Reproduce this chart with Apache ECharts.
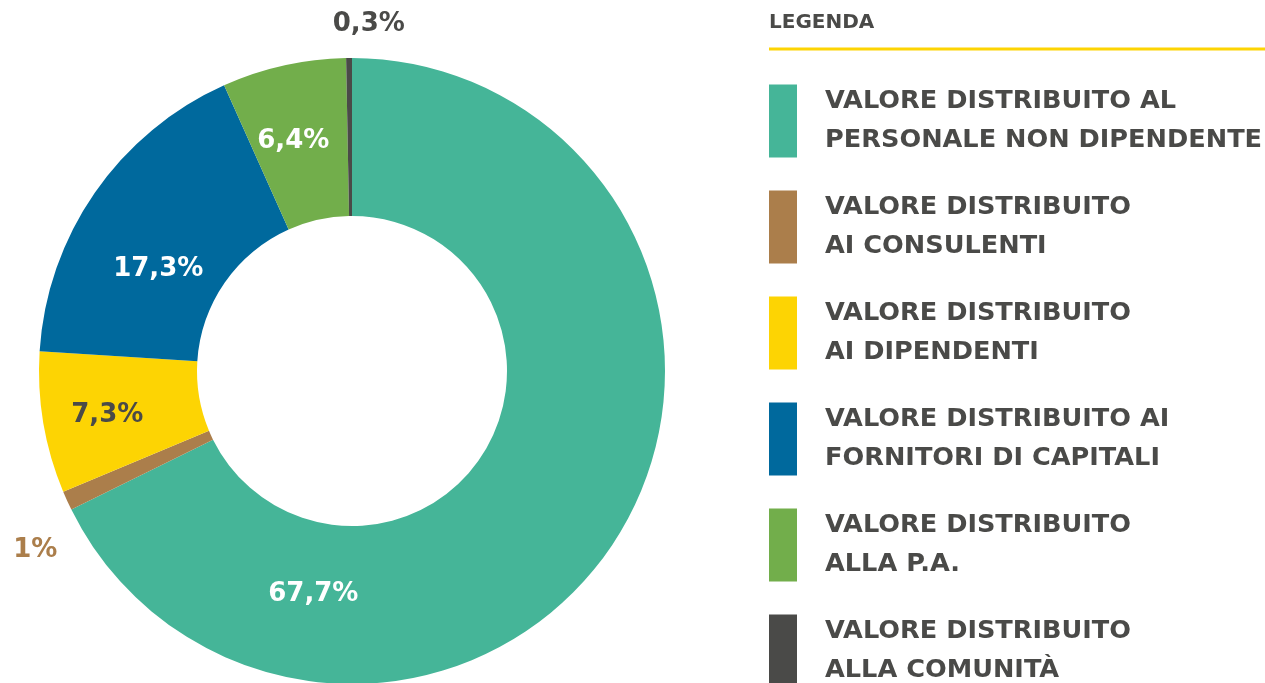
<!DOCTYPE html>
<html style="height: 100%;width:100%">
<head>
<meta charset="utf-8">
</head>
<body style="height: 100%; width:100%; margin:0">
<div id="chart-panel" style="height: 683px;width: 1265px"></div>
<script type="text/javascript" src="https://cdn.jsdelivr.net/npm/echarts@6/dist/echarts.min.js"></script>
<script type="text/javascript">
// categorie (ordine orario a partire dalle ore 12)
var categories = [
    'VALORE DISTRIBUITO AL\nPERSONALE NON DIPENDENTE',
    'VALORE DISTRIBUITO\nAI CONSULENTI',
    'VALORE DISTRIBUITO\nAI DIPENDENTI',
    'VALORE DISTRIBUITO AI\nFORNITORI DI CAPITALI',
    'VALORE DISTRIBUITO\nALLA P.A.',
    'VALORE DISTRIBUITO\nALLA COMUNITÀ'
];
var values = [67.7, 1, 7.3, 17.3, 6.4, 0.3];

var colors = ['#45B598', '#AB7E4B', '#FDD403', '#00699D', '#72AE4B', '#4A4A48'];
var labelColors = ['#fff', '#AB7E4B', '#4A4A48', '#fff', '#fff', '#4A4A48'];
// spostamento delle etichette rispetto alla posizione "inside"
var labelShift = [[-240, 98], [-101, 81], [-11, 5], [1, 33], [-7, 2], [19, -110]];

var dom = document.getElementById('chart-panel');
var myChart = echarts.init(dom);

var pieData = [];
for (var i = 0; i < categories.length; i++) {
    pieData.push({
        name: categories[i],
        value: values[i],
        itemStyle: { color: colors[i] },
        label: { color: labelColors[i] }
    });
}

var option = {
    backgroundColor: '#fff',
    animation: false,
    title: {
        text: 'LEGENDA',
        left: 764,
        top: 8,
        textStyle: {
            color: '#4A4A48',
            fontFamily: 'DejaVu Sans',
            fontWeight: 'bold',
            fontSize: 20
        }
    },
    graphic: [{
        type: 'line',
        shape: { x1: 769, y1: 49, x2: 1265, y2: 49 },
        style: { stroke: '#FDD403', lineWidth: 3 }
    }],
    legend: {
        orient: 'vertical',
        left: 769,
        top: 82,
        height: 660,
        padding: 0,
        itemWidth: 28,
        itemHeight: 73,
        itemGap: 28,
        icon: 'rect',
        selectedMode: false,
        data: categories,
        textStyle: {
            color: '#4A4A48',
            fontFamily: 'DejaVu Sans',
            fontWeight: 'bold',
            fontSize: 25.6,
            lineHeight: 39,
            padding: [0, 0, 0, 23]
        }
    },
    series: [{
        type: 'pie',
        center: [352, 371],
        radius: [155, 313],
        startAngle: 90,
        clockwise: true,
        avoidLabelOverlap: false,
        label: {
            show: true,
            position: 'inside',
            fontFamily: 'DejaVu Sans',
            fontWeight: 'bold',
            fontSize: 26,
            formatter: function (p) {
                return String(p.value).replace('.', ',') + '%';
            }
        },
        labelLine: { show: false },
        labelLayout: function (params) {
            var s = labelShift[params.dataIndex];
            return { dx: s[0], dy: s[1] };
        },
        emphasis: { disabled: true },
        data: pieData
    }]
};

myChart.setOption(option);
</script>
</body>
</html>
